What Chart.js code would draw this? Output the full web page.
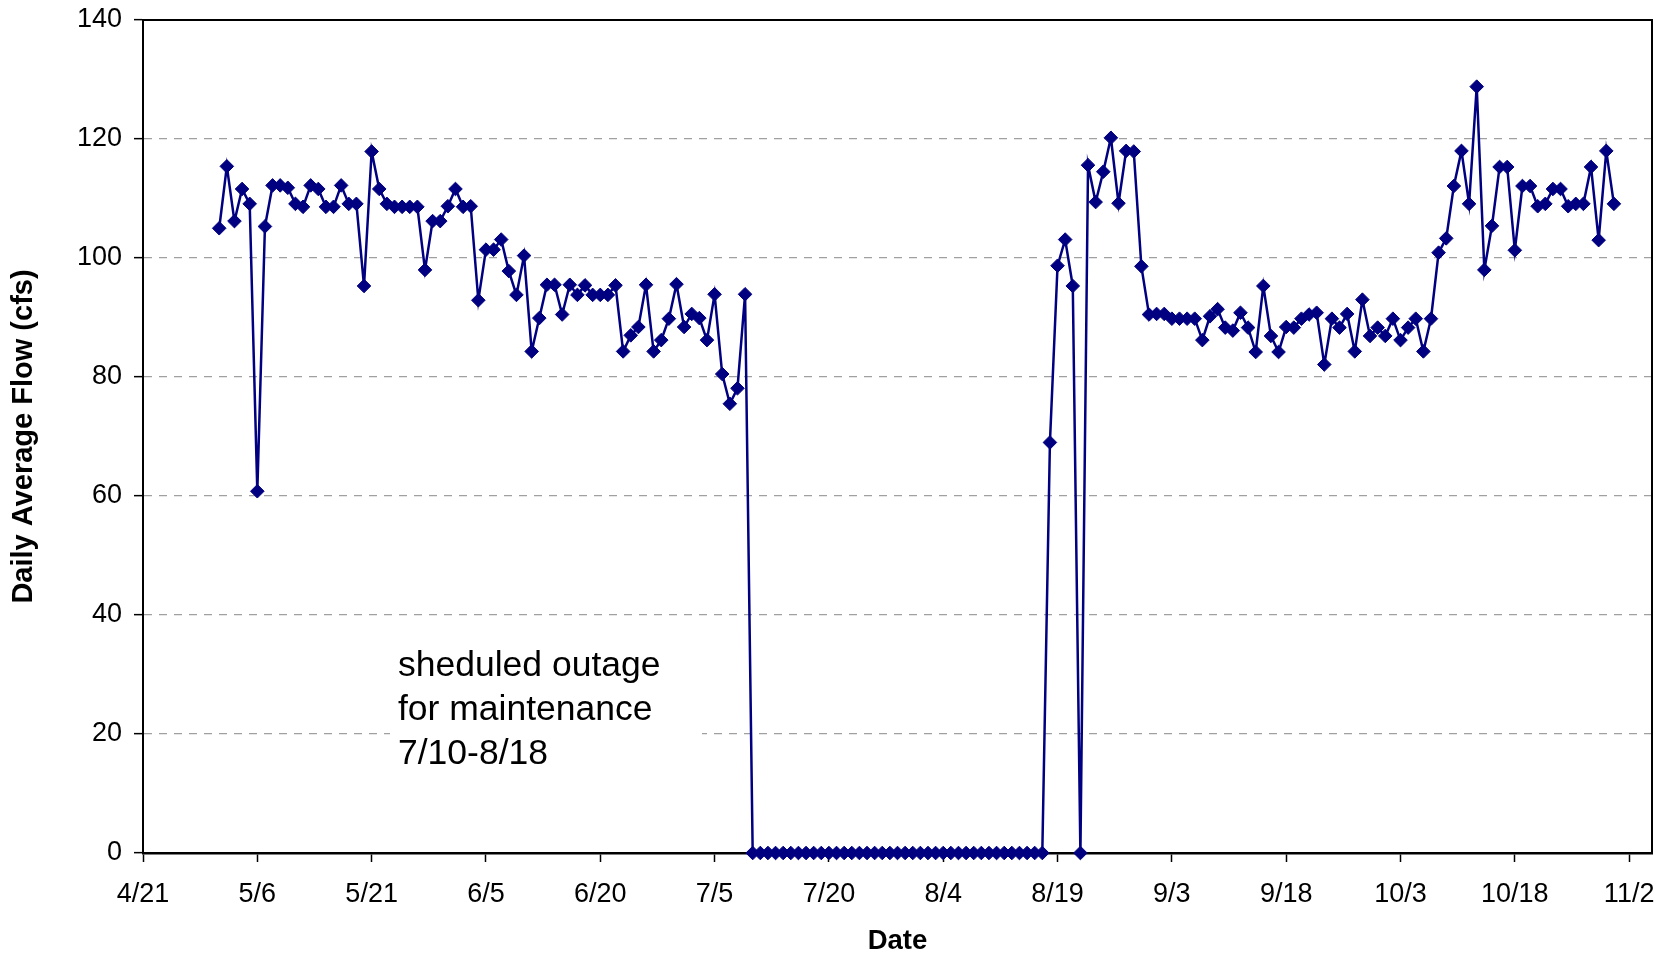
<!DOCTYPE html>
<html lang="en">
<head>
<meta charset="UTF-8">
<title>Daily Average Flow</title>
<script src="https://cdn.jsdelivr.net/npm/chart.js@4.4.0/dist/chart.umd.min.js"></script>
<style>
  html, body { margin: 0; padding: 0; background: #fff; }
  canvas { display: block; }
</style>
</head>
<body>
<canvas id="flowChart" width="1669" height="958"></canvas>
<script>
// x is counted in days after 4/21; first reading is 5/1 (day 10)
const firstDay = 10;

const tickDays = [0, 15, 30, 45, 60, 75, 90, 105, 120, 135, 150, 165, 180, 195];
const tickLabels = ['4/21', '5/6', '5/21', '6/5', '6/20', '7/5', '7/20', '8/4', '8/19', '9/3', '9/18', '10/3', '10/18', '11/2'];

// daily average flow (cfs), 5/1 .. 10/31
const flow = [
  105, 115.4, 106.2, 111.6, 109.1,
  60.8,
  105.3, 112.2, 112.2, 111.8, 109.1, 108.6, 112.2, 111.6, 108.6, 108.6, 112.2, 109.1, 109.1,
  95.3,
  117.9,
  111.6, 109.1, 108.6, 108.6, 108.6, 108.6,
  98,
  106.2, 106.2, 108.7, 111.6, 108.6, 108.7,
  92.9,
  101.4, 101.4, 103.1, 97.8, 93.8, 100.4,
  84.3, 89.9, 95.5, 95.5, 90.5, 95.5, 93.8, 95.4, 93.8, 93.8, 93.8, 95.4,
  84.3, 87, 88.4, 95.5, 84.3, 86.2, 89.8, 95.6, 88.4, 90.6, 89.9, 86.2, 93.9, 80.5, 75.5, 78.1, 93.9,
  // outage 7/10 - 8/18
  0, 0, 0, 0, 0, 0, 0, 0, 0, 0, 0, 0, 0, 0, 0, 0, 0, 0, 0, 0,
  0, 0, 0, 0, 0, 0, 0, 0, 0, 0, 0, 0, 0, 0, 0, 0, 0, 0, 0,
  69, 98.7, 103.1, 95.3, 0,
  115.6, 109.4, 114.5, 120.2, 109.2, 118, 117.9, 98.6,
  90.5, 90.6, 90.6, 89.8, 89.8, 89.8, 89.8, 86.2,
  90.2, 91.4, 88.3, 87.8, 90.8, 88.3, 84.2, 95.3, 86.9, 84.2,
  88.4, 88.3, 89.8, 90.5, 90.8, 82.1, 89.8, 88.3, 90.6, 84.3, 93, 86.9, 88.3, 86.9, 89.8, 86.2, 88.3, 89.8, 84.3, 89.8,
  100.9, 103.3, 112.1, 118, 109.1, 128.8, 98, 105.4, 115.3, 115.3, 101.3, 112.1, 112.1, 108.7, 109.1, 111.6, 111.6, 108.7, 109.1, 109.1, 115.3, 103, 118, 109.1
];

const noteLines = ['sheduled outage', 'for maintenance', '7/10-8/18'];

const FONT = '"Liberation Sans", Arial, sans-serif';

// frame round the plot + the outage note on a white box
const plotFrame = {
  id: 'plotFrame',
  beforeDatasetsDraw(chart) {
    const { ctx, chartArea: a } = chart;
    ctx.save();
    ctx.fillStyle = '#fff';
    ctx.fillRect(a.left + 247, a.top + 616, 312, 154);
    ctx.fillStyle = '#000';
    ctx.font = '35.5px ' + FONT;
    ctx.textBaseline = 'middle';
    noteLines.forEach((t, i) => ctx.fillText(t, a.left + 255, a.top + 646 + i * 44));
    ctx.strokeStyle = '#000';
    ctx.lineWidth = 2;
    ctx.strokeRect(a.left, a.top, a.right - a.left, a.bottom - a.top);
    ctx.restore();
  }
};

new Chart(document.getElementById('flowChart'), {
  type: 'line',
  data: {
    datasets: [{
      data: flow.map((v, i) => ({ x: firstDay + i, y: v })),
      borderColor: '#000080',
      backgroundColor: '#000080',
      borderWidth: 2.5,
      pointStyle: 'rectRot',
      pointRadius: 6.8,
      pointBorderWidth: 1,
      pointBackgroundColor: '#000080',
      pointBorderColor: '#000080',
      tension: 0,
      clip: false
    }]
  },
  options: {
    responsive: false,
    animation: false,
    devicePixelRatio: 1,
    layout: { padding: { top: 20, right: 17, left: 0, bottom: 0 } },
    plugins: {
      legend: { display: false },
      tooltip: { enabled: false }
    },
    scales: {
      x: {
        type: 'linear',
        min: 0,
        max: 198,
        afterBuildTicks: s => { s.ticks = tickDays.map(v => ({ value: v })); },
        afterFit: s => { s.height = 105; s.paddingLeft = 0; s.paddingRight = 0; },
        ticks: {
          callback: (v, i) => tickLabels[i],
          color: '#000',
          font: { family: FONT, size: 27 },
          padding: 16,
          maxRotation: 0,
          autoSkip: false
        },
        grid: { drawOnChartArea: false, tickLength: 9, tickColor: '#000', tickWidth: 1.5 },
        border: { color: '#000', width: 2.5 },
        title: {
          display: true,
          text: 'Date',
          color: '#000',
          font: { family: FONT, size: 27.5, weight: 'bold' },
          padding: { top: 0, bottom: 0 }
        }
      },
      y: {
        min: 0,
        max: 140,
        afterFit: s => { s.width = 143; s.paddingTop = 0; s.paddingBottom = 0; },
        ticks: {
          stepSize: 20,
          color: '#000',
          font: { family: FONT, size: 27 },
          padding: 12
        },
        grid: {
          color: c => (c.tick.value === 0 || c.tick.value === 140) ? 'rgba(0,0,0,0)' : '#a0a0a0',
          lineWidth: 1.3,
          tickLength: 9,
          tickColor: '#000',
          tickWidth: 1.5
        },
        border: { color: '#000', width: 2, dash: [8, 7] },
        title: {
          display: true,
          text: 'Daily Average Flow (cfs)',
          color: '#000',
          font: { family: FONT, size: 29, weight: 'bold' },
          padding: { top: 7, bottom: 0 }
        }
      }
    }
  },
  plugins: [plotFrame]
});
</script>
</body>
</html>
